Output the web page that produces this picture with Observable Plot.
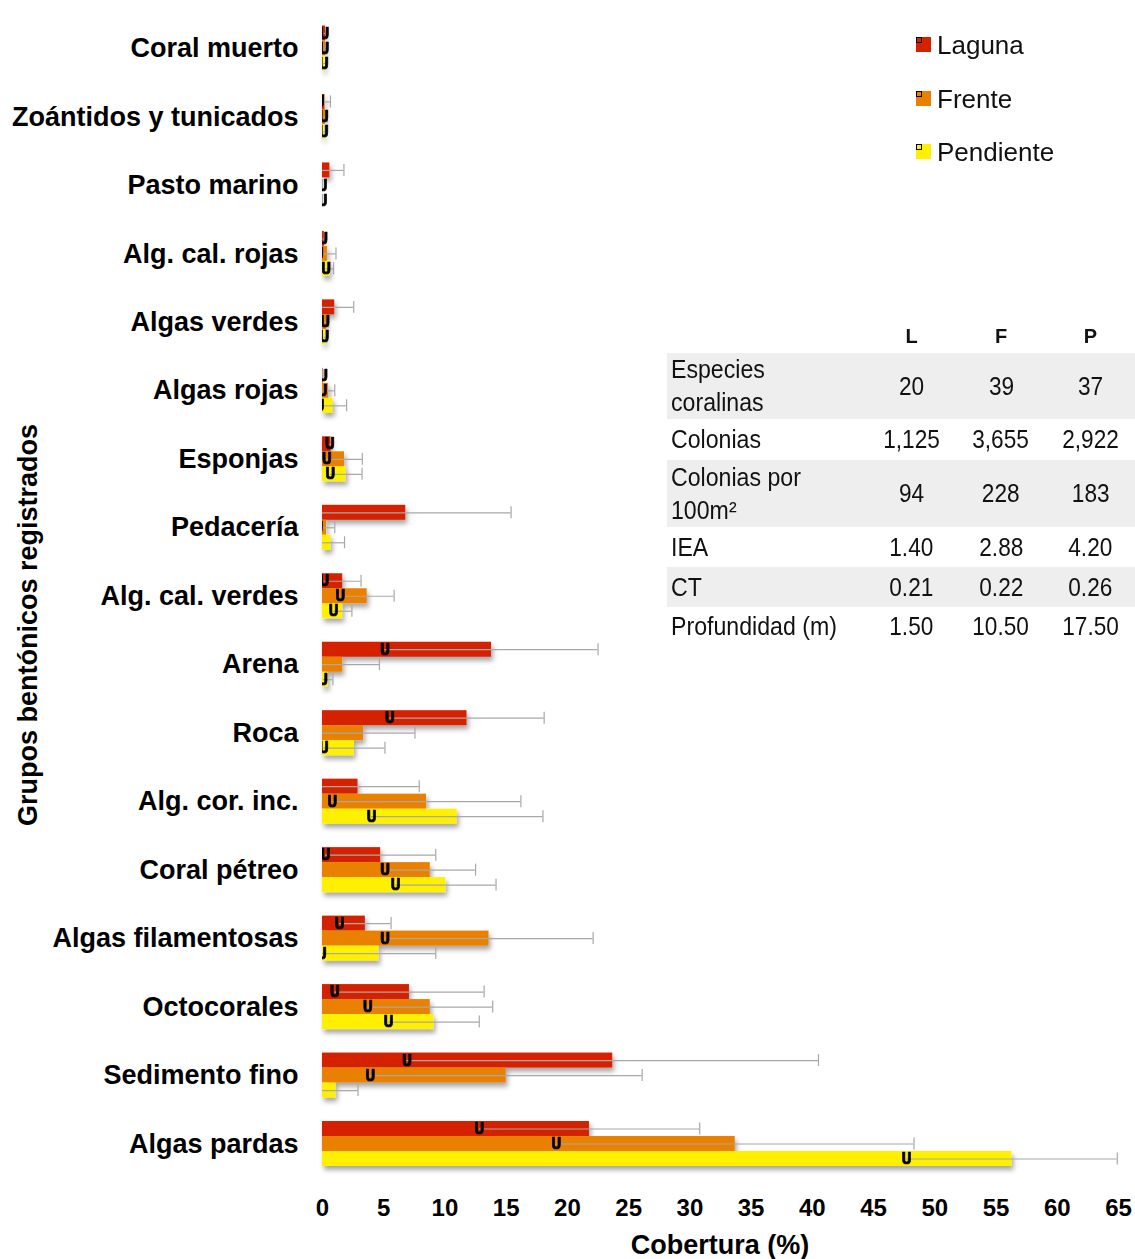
<!DOCTYPE html>
<html><head><meta charset="utf-8">
<script src="https://cdn.jsdelivr.net/npm/d3@7"></script>
<script src="https://cdn.jsdelivr.net/npm/@observablehq/plot@0.6"></script>
<style>
body{margin:0;background:#fff;}
#wrap{position:relative;width:1135px;height:1259px;overflow:hidden;font-family:"Liberation Sans",Arial,sans-serif;color:#000;}
#chart{position:absolute;left:0;top:0;}
#ytitle{position:absolute;left:28px;top:625px;transform:translate(-50%,-50%) rotate(-90deg);font-weight:bold;font-size:27px;white-space:nowrap;}
#xtitle{position:absolute;left:720px;top:1245px;transform:translate(-50%,-50%);font-weight:bold;font-size:27px;white-space:nowrap;}
.leg{position:absolute;left:916px;height:30px;}
.leg .sw{position:absolute;left:0;top:7px;width:15px;height:15px;}
.leg .in{position:absolute;left:0;top:0;width:4px;height:4px;border:1.5px solid #000;}
.leg .lt{position:absolute;left:21px;top:0;font-size:26px;line-height:30px;white-space:nowrap;color:#111;}
#tbl{position:absolute;left:667px;top:322px;width:468px;border-collapse:collapse;font-family:"Liberation Sans",sans-serif;font-size:26px;color:#111;}
#tbl td{padding:0;}
#tbl th{font-weight:bold;font-size:20px;height:31px;padding:3px 0 0 0;box-sizing:border-box;text-align:center;vertical-align:top;}
#tbl td.lab{padding-left:4px;text-align:left;line-height:33px;width:196px;}
#tbl td.lab span{display:inline-block;white-space:pre;transform:scaleX(0.89);transform-origin:0 50%;}
#tbl td.num{text-align:center;}
#tbl td.num span{display:inline-block;transform:scaleX(0.87);transform-origin:50% 50%;}
#tbl tr.g td{background:#eeeeee;}
</style></head>
<body><div id="wrap"><div id="chart"></div></div>
<script>
const categories = ["Coral muerto","Zoántidos y tunicados","Pasto marino","Alg. cal. rojas","Algas verdes","Algas rojas","Esponjas","Pedacería","Alg. cal. verdes","Arena","Roca","Alg. cor. inc.","Coral pétreo","Algas filamentosas","Octocorales","Sedimento fino","Algas pardas"];
const seriesNames = ["Laguna","Frente","Pendiente"];
const seriesColors = ["#d42200","#e98000","#fff000"];
const lagunaMean = [0.25,0.2,0.6,0.15,1.0,0.05,0.7,6.8,1.65,13.8,11.8,2.9,4.75,3.5,7.1,23.7,21.8];
const lagunaSD = [0.1,0.45,1.15,0.1,1.55,0.0,0.1,8.6,1.5,8.7,6.3,5.0,4.5,2.1,6.1,16.8,9.0];
const frenteMean = [0.25,0.25,0.0,0.4,0.35,0.5,1.8,0.33,3.65,1.65,3.35,8.5,8.8,13.6,8.8,15.0,33.7];
const frenteSD = [0.1,0.15,0.0,0.7,0.15,0.5,1.45,0.67,2.2,3.0,4.2,7.7,3.7,8.5,5.1,11.1,14.6];
const pendienteMean = [0.2,0.15,0.0,0.6,0.25,0.87,1.93,0.7,1.65,0.45,2.6,11.0,10.07,4.6,9.1,1.1,56.3];
const pendienteSD = [0.1,0.05,0.0,0.3,0.1,1.1,1.3,1.1,0.75,0.4,2.5,7.0,4.1,4.65,3.7,1.8,8.6];
const xTicks = [0,5,10,15,20,25,30,35,40,45,50,55,60,65];
const xLabel = "Cobertura (%)";
const yLabel = "Grupos bentónicos registrados";

const tableHead = ["L","F","P"];
const tableRows = ["Especies\ncoralinas","Colonias","Colonias por\n100m²","IEA","CT","Profundidad (m)"];
const tableL = ["20","1,125","94","1.40","0.21","1.50"];
const tableF = ["39","3,655","228","2.88","0.22","10.50"];
const tableP = ["37","2,922","183","4.20","0.26","17.50"];
const rowHeights = [66,41,67,40,40,38];

const means = [lagunaMean, frenteMean, pendienteMean];
const sds = [lagunaSD, frenteSD, pendienteSD];
const data = [];
categories.forEach((c,i)=>seriesNames.forEach((s,j)=>data.push({cat:c,series:s,mean:means[j][i],sd:sds[j][i]})));

const chart = Plot.plot({
  width:1135, height:1259,
  marginLeft:322, marginRight:17, marginTop:25.5, marginBottom:93,
  x:{domain:[0,65], axis:null},
  y:{domain:seriesNames, axis:null, padding:0, round:false},
  fy:{domain:categories, paddingInner:0.343, paddingOuter:0, round:false, axis:null},
  color:{domain:seriesNames, range:seriesColors},
  style:{fontFamily:"Liberation Sans, Arial, sans-serif", background:"transparent", color:"#000"},
  marks:[
    Plot.barX(data,{fy:"cat",y:"series",x:"mean",fill:"series"}),
    Plot.ruleY(data,{fy:"cat",y:"series",x1:d=>d.mean-d.sd,x2:d=>d.mean+d.sd,stroke:"#a8a8a8",strokeWidth:1.2,mixBlendMode:"multiply",clip:true}),
    Plot.tickX(data,{fy:"cat",y:"series",x:d=>d.mean+d.sd,stroke:"#a8a8a8",strokeWidth:1.2,insetTop:1.5,insetBottom:1.5}),
    Plot.text(data,{filter:d=>d.mean-d.sd>-0.6,fy:"cat",y:"series",x:d=>d.mean-d.sd,text:()=>"U",fill:"#000",stroke:"#000",strokeWidth:0.7,fontWeight:"bold",fontSize:16,fontFamily:"DejaVu Sans Mono",clip:true}),
    Plot.axisFy({anchor:"left",tickSize:0,tickPadding:24,fontSize:27,fontWeight:"bold",label:null}),
    Plot.axisX({anchor:"bottom",ticks:xTicks,tickSize:0,tickPadding:32.5,fontSize:24,fontWeight:"bold",label:null})
  ]
});
document.getElementById("chart").appendChild(chart);

const svg = d3.select(chart);
const defs = svg.insert("defs",":first-child");
const f = defs.append("filter").attr("id","sh").attr("x","-10%").attr("y","-40%").attr("width","130%").attr("height","200%");
f.append("feDropShadow").attr("dx",2).attr("dy",4).attr("stdDeviation",2.5).attr("flood-color","#000").attr("flood-opacity",0.35);
svg.selectAll('g[aria-label="bar"]').attr("filter","url(#sh)");

const wrap = d3.select("#wrap");
wrap.append("div").attr("id","ytitle").text(yLabel);
wrap.append("div").attr("id","xtitle").text(xLabel);
seriesNames.forEach((s,i)=>{
  const g = wrap.append("div").attr("class","leg").style("top",(30+i*53.5)+"px");
  const sw = g.append("div").attr("class","sw").style("background",seriesColors[i]);
  sw.append("div").attr("class","in");
  g.append("div").attr("class","lt").text(s);
});
const tbl = wrap.append("table").attr("id","tbl");
const hr = tbl.append("tr");
hr.append("th").style("width","196px");
tableHead.forEach(h=>hr.append("th").text(h));
tableRows.forEach((r,i)=>{
  const tr = tbl.append("tr").attr("class", i%2===0?"g":"").style("height",rowHeights[i]+"px");
  tr.append("td").attr("class","lab").append("span").text(r);
  [tableL,tableF,tableP].forEach(col=>tr.append("td").attr("class","num").append("span").text(col[i]));
});
</script></body></html>
